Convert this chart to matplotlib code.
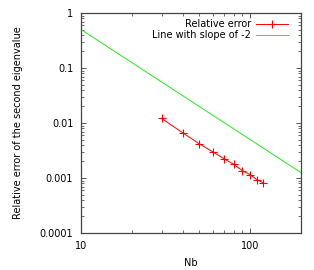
import matplotlib
matplotlib.use("Agg")
import matplotlib.pyplot as plt
from matplotlib.ticker import LogLocator, FixedLocator, NullFormatter

nb = [30, 40, 50, 60, 70, 80, 90, 100, 110, 120]
rel_err = [0.0121, 0.0066, 0.0042, 0.0030, 0.00225, 0.00177, 0.00136, 0.00115, 0.00093, 0.00081]
slope_x = [10, 200]
slope_y = [0.5, 0.00125]
xticks = [10, 100]
xticklabels = ["10", "100"]
yticks = [0.0001, 0.001, 0.01, 0.1, 1]
yticklabels = ["0.0001", "0.001", "0.01", "0.1", "1"]

FS = 7
plt.rcParams['font.family'] = ['DejaVu Sans']
fig = plt.figure(figsize=(3.14, 2.70), dpi=100)
ax = fig.add_axes([81/314, 1-233/270, 220/314, 220/270])

ax.plot(nb, rel_err, color='#ff0000', lw=0.7, marker='+', ms=6, mew=0.8)
ax.plot(slope_x, slope_y, color='#22ee22', lw=0.7)

ax.set_xscale('log')
ax.set_yscale('log')
ax.set_xlim(10, 200)
ax.set_ylim(0.0001, 1)
ax.xaxis.set_major_locator(FixedLocator(xticks))
ax.set_xticklabels(xticklabels)
ax.xaxis.set_minor_locator(LogLocator(base=10, subs=range(2, 10)))
ax.xaxis.set_minor_formatter(NullFormatter())
ax.yaxis.set_major_locator(FixedLocator(yticks))
ax.set_yticklabels(yticklabels)
ax.yaxis.set_minor_locator(LogLocator(base=10, subs=range(2, 10)))
ax.yaxis.set_minor_formatter(NullFormatter())

ax.tick_params(which='both', direction='in', top=True, right=True, labelsize=FS, color='#555555')
ax.tick_params(axis='y', pad=5.5)
ax.tick_params(axis='x', pad=6)
ax.tick_params(which='major', length=3.5, width=0.7)
ax.tick_params(which='minor', length=2, width=0.6)
for s in ax.spines.values():
    s.set_color('#444444')
    s.set_linewidth(0.9)

ax.set_xlabel('Nb', fontsize=FS, labelpad=4.5)
ax.set_ylabel('Relative error of the second eigenvalue', fontsize=FS, labelpad=12)

# gnuplot-style key
def ax_coords(px, py):
    return ((px - 81) / 220, (233 - py) / 220)

tx, ty1 = ax_coords(251, 24)
_, ty2 = ax_coords(251, 35)
x0, _ = ax_coords(256, 0)
x1, _ = ax_coords(288, 0)
ax.text(tx, ty1, 'Relative error', transform=ax.transAxes, ha='right', va='center', fontsize=FS)
ax.text(tx, ty2, 'Line with slope of -2', transform=ax.transAxes, ha='right', va='center', fontsize=FS)
ax.plot([x0, x1], [ty1, ty1], transform=ax.transAxes, color='#ff0000', lw=0.7, clip_on=False)
ax.plot([(x0 + x1) / 2], [ty1], transform=ax.transAxes, color='#ff0000', marker='+', ms=6, mew=0.8, clip_on=False)
ax.plot([x0, x1], [ty2, ty2], transform=ax.transAxes, color='#22ee22', lw=0.7, clip_on=False)

fig.savefig('out.png', dpi=100)
